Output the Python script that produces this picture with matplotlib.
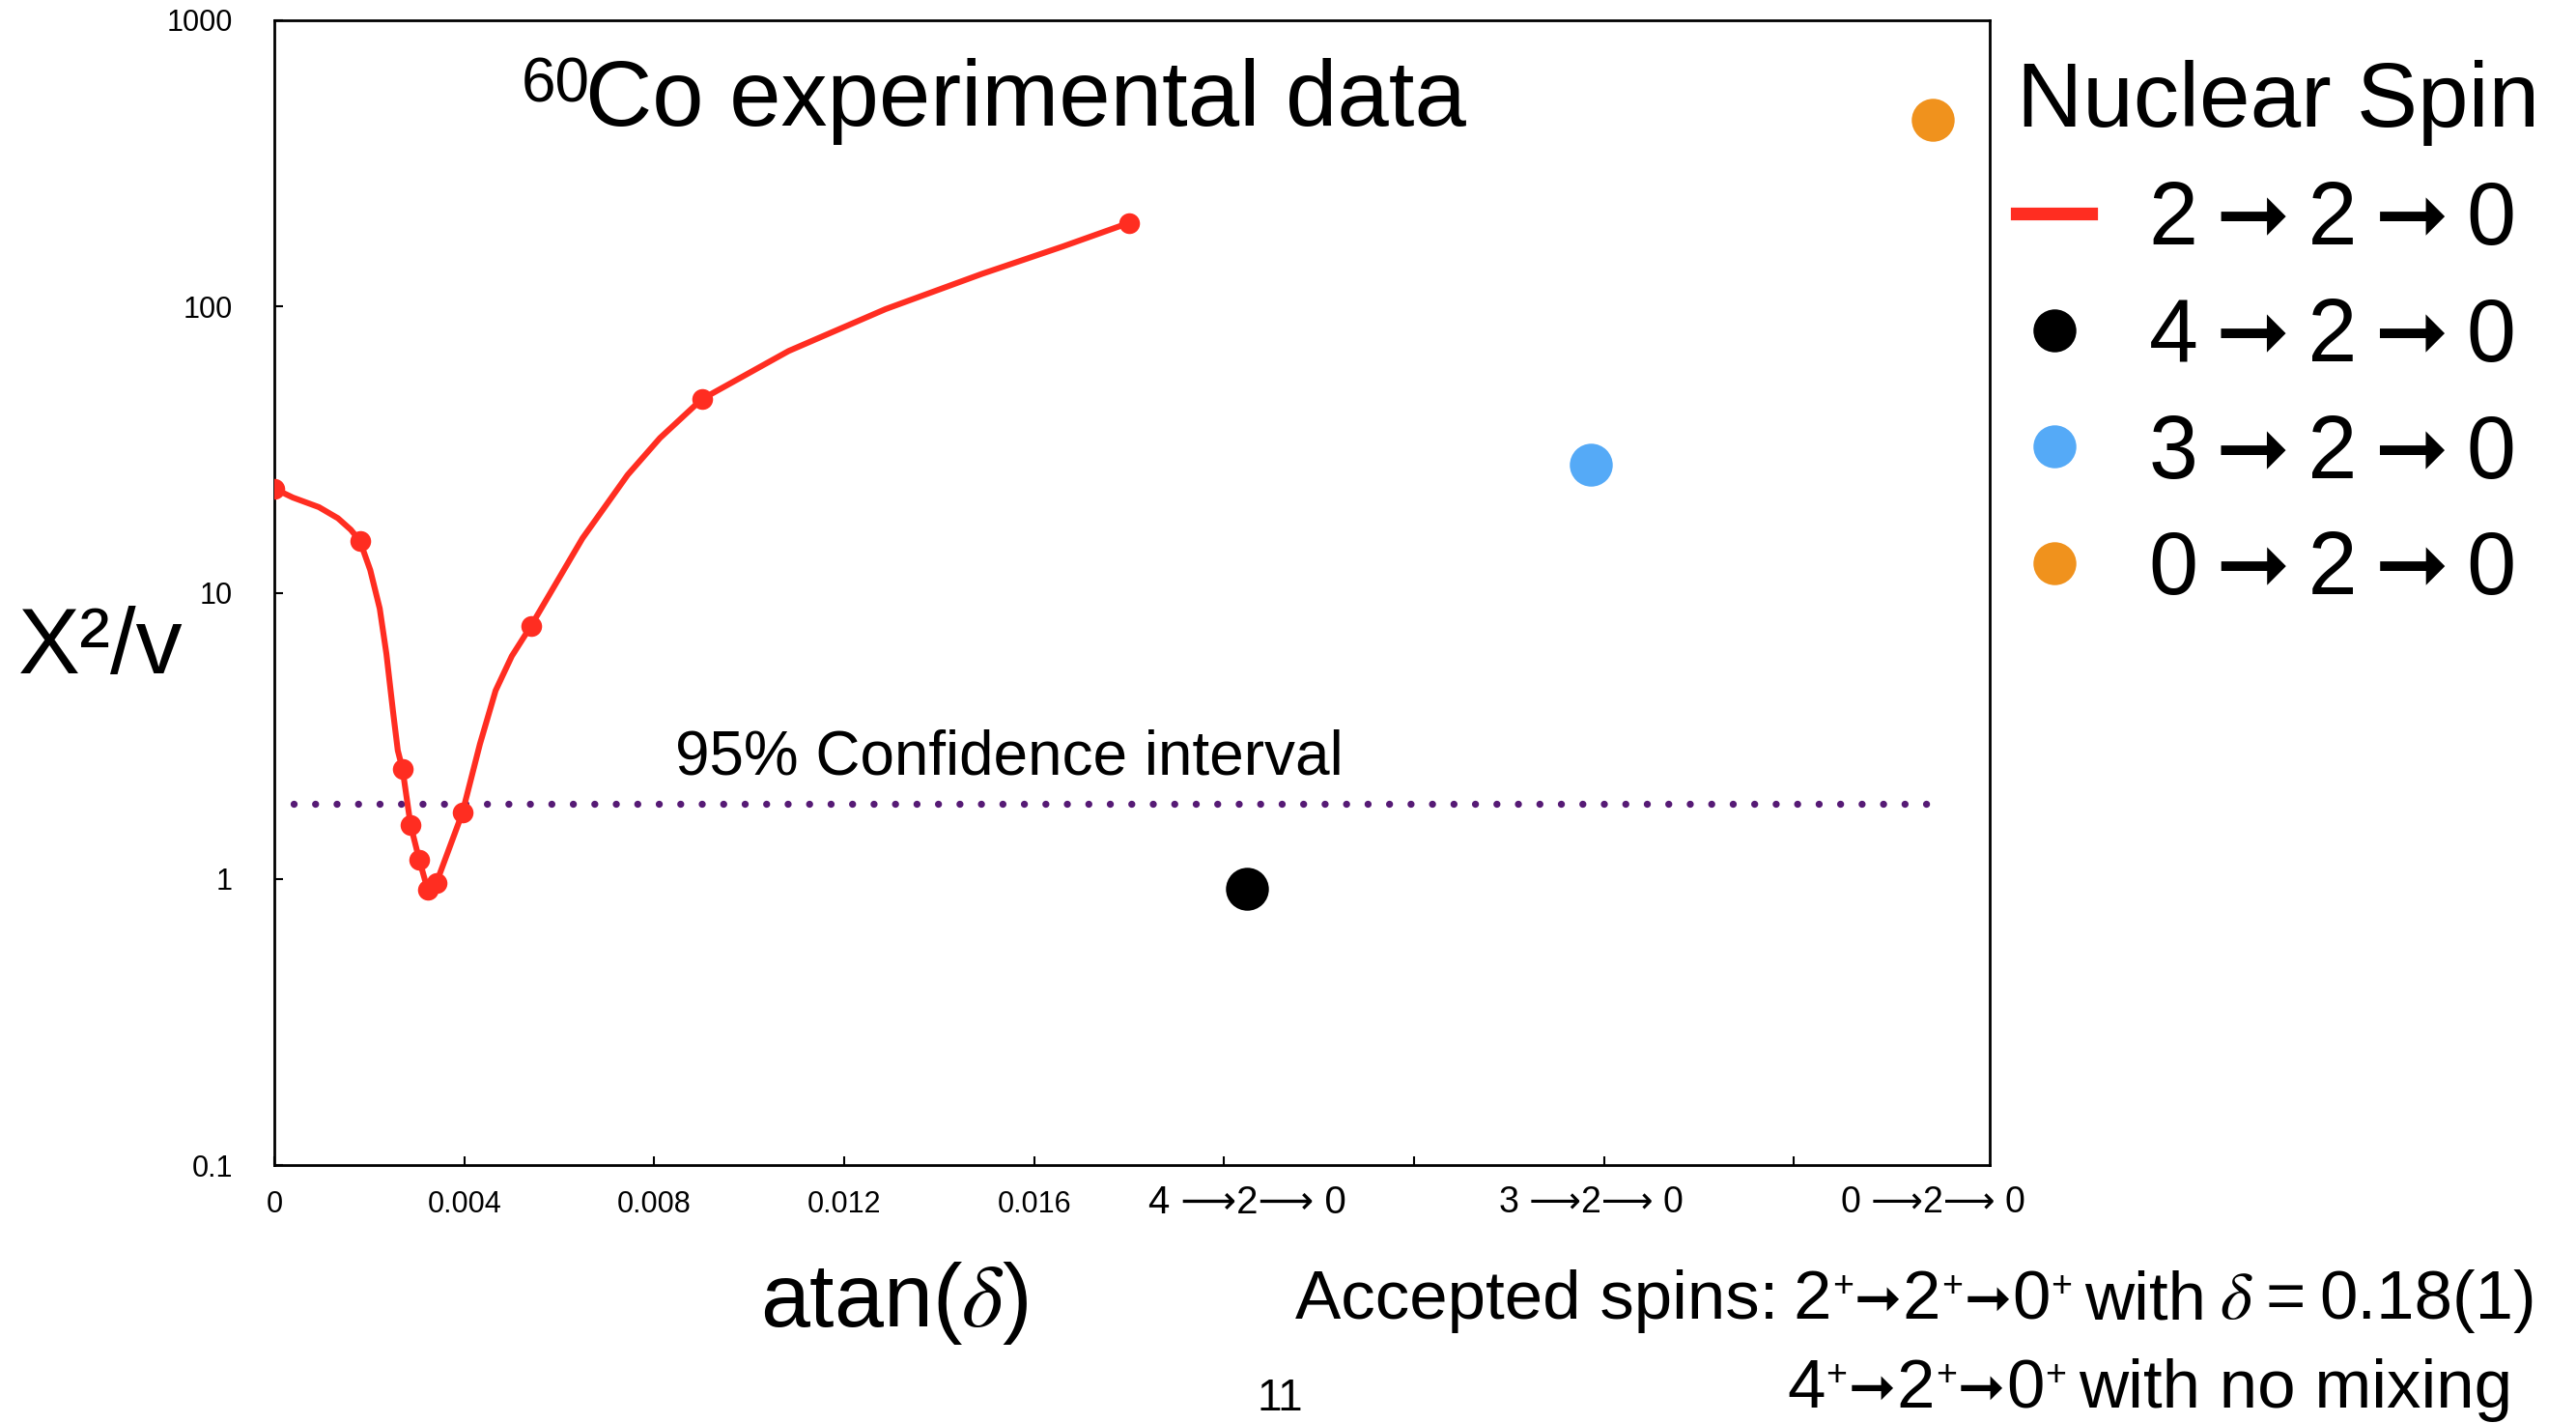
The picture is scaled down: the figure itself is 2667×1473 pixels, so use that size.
import matplotlib
matplotlib.use("Agg")
import matplotlib.pyplot as plt
from matplotlib.lines import Line2D
from matplotlib.ticker import NullLocator

plt.rcParams["font.family"] = ["Liberation Sans", "DejaVu Sans"]
plt.rcParams["mathtext.fontset"] = "stix"

# 2->2->0 chi2 scan
fit_x = [0.0, 0.0018, 0.0027, 0.00287, 0.00305, 0.00323, 0.00341, 0.00396, 0.0054, 0.0090, 0.0180]
fit_y = [23.1, 15.2, 2.42, 1.54, 1.17, 0.916, 0.965, 1.70, 7.63, 47.4, 196]

# the smooth line drawn through them
curve_x = [0.0, 0.00039, 0.00094, 0.00134, 0.00161, 0.0018, 0.00202, 0.00222, 0.00236,
           0.0025, 0.0026, 0.0027, 0.00287, 0.00305, 0.00323, 0.00341, 0.00396, 0.00433,
           0.00466, 0.0050, 0.0054, 0.00649, 0.00744, 0.00812, 0.0090, 0.01083, 0.01287,
           0.0149, 0.0166, 0.0180]
curve_y = [23.1, 21.5, 19.9, 18.2, 16.6, 15.2, 12.0, 8.8, 6.12,
           3.84, 2.81, 2.42, 1.54, 1.17, 0.916, 0.965, 1.70, 2.96,
           4.55, 6.0, 7.63, 15.5, 25.8, 34.7, 47.4, 69.9, 97.9,
           130, 162, 196]

# other spin hypotheses (no mixing)
spin_labels = ["4 \u27f62\u27f6 0", "3 \u27f62\u27f6 0", "0 \u27f62\u27f6 0"]
spin_x = [0.02049, 0.02773, 0.03492]
spin_y = [0.92, 28.0, 449.0]
spin_colors = ["#000000", "#55AAF7", "#F0921D"]

conf_x = [0.0004, 0.0349]
conf_level = 1.83

xticks = [0, 0.004, 0.008, 0.012, 0.016, 0.020, 0.024, 0.028, 0.032]
xtick_labels = ["0", "0.004", "0.008", "0.012", "0.016", "", "", "", ""]
yticks = [0.1, 1, 10, 100, 1000]
ytick_labels = ["0.1", "1", "10", "100", "1000"]

ARROW = "\u279e"
TS = "\u2009"
legend_labels = [TS.join(["2", ARROW, "2", ARROW, "0"]),
                 TS.join(["4", ARROW, "2", ARROW, "0"]),
                 TS.join(["3", ARROW, "2", ARROW, "0"]),
                 TS.join(["0", ARROW, "2", ARROW, "0"])]

red = "#FF2D21"
purple = "#561A75"

W, H = 2667, 1473


def fx(px):
    return px / W


def fy(py):
    return 1 - py / H


fig = plt.figure(figsize=(W / 100, H / 100), dpi=100)
renderer = fig.canvas.get_renderer()
ax = fig.add_axes([fx(284), fy(1206), (2060 - 284) / W, (1206 - 21) / H])
ax.set_yscale("log")
ax.set_xlim(0, 0.03612)
ax.set_ylim(0.1, 1000)

ax.plot(curve_x, curve_y, color=red, lw=4.4, solid_capstyle="round",
        solid_joinstyle="round", zorder=3)
ax.plot(fit_x, fit_y, "o", color=red, ms=15.5, mec="none", zorder=4)

ax.plot(conf_x, [conf_level, conf_level], color=purple, lw=5.3,
        linestyle=(0, (0.001, 3.02)), dash_capstyle="round", zorder=2)

for x, y, c in zip(spin_x, spin_y, spin_colors):
    ax.plot(x, y, "o", color=c, ms=32, mec="none", zorder=4)

for x, lab, fs in zip(spin_x, spin_labels, [29, 27, 27]):
    ax.text(x, -0.033, lab, transform=ax.get_xaxis_transform(),
            ha="center", va="center", fontsize=fs)

ax.set_xticks(xticks, labels=xtick_labels)
ax.set_yticks(yticks, labels=ytick_labels)
ax.yaxis.set_minor_locator(NullLocator())
ax.tick_params(direction="in", length=6.5, width=1.5, labelsize=22)
ax.tick_params(axis="x", pad=19)
ax.tick_params(axis="y", pad=31)
for s in ax.spines.values():
    s.set_linewidth(2)

# texts
fig.text(fx(540), fy(105), "60", fontsize=46, va="baseline", ha="left")
fig.text(fx(606), fy(130), "Co experimental data", fontsize=69, va="baseline", ha="left")
fig.text(fx(699), fy(802), "95% Confidence interval", fontsize=46, va="baseline", ha="left")
fig.text(fx(19), fy(697), "X\u00b2/v", fontsize=69, va="baseline", ha="left")
fig.text(fx(926), fy(1373), r"atan($\delta$)", fontsize=66, va="baseline", ha="center")
fig.text(fx(1325), fy(1460), "11", fontsize=33, va="baseline", ha="center")


def write_run(x, base, pieces):
    # pieces: (text, size, rise in px) or a gap in px
    for p in pieces:
        if not isinstance(p, tuple):
            x += p
            continue
        s, size, rise = p
        t = fig.text(fx(x), fy(base - rise), s, fontsize=size, va="baseline", ha="left")
        x += t.get_window_extent(renderer).width
    return x


FS = 51


def spin_chain(a, b, c):
    return [(a, FS, 0), 1, ("+", 27, 23), 1, (ARROW, 42, 2), 1,
            (b, FS, 0), 1, ("+", 27, 23), 1, (ARROW, 42, 2), 1,
            (c, FS, 0), 1, ("+", 27, 23)]


write_run(1341, 1365, [("Accepted spins:", FS, 0), 15] + spin_chain("2", "2", "0")
          + [13, ("with", FS, 0), 13, (r"$\delta$", FS, 0), 13, ("=", FS, 0), 15,
             ("0.18(1)", FS, 0)])
write_run(1850, 1457, spin_chain("4", "2", "0") + [13, ("with no mixing", FS, 0)])

handles = [Line2D([], [], color=red, lw=9.5)]
for c in spin_colors:
    handles.append(Line2D([], [], marker="o", ls="none", color=c, ms=32, mec="none"))
fig.legend(handles, legend_labels, loc="upper left", bbox_to_anchor=(fx(2088), fy(62)),
           frameon=False, borderpad=0, borderaxespad=0, handlelength=0.84,
           handletextpad=0.65, labelspacing=0.38, fontsize=66,
           title="Nuclear Spin", title_fontsize=68, alignment="left")

fig.savefig("out.png", dpi=100)
